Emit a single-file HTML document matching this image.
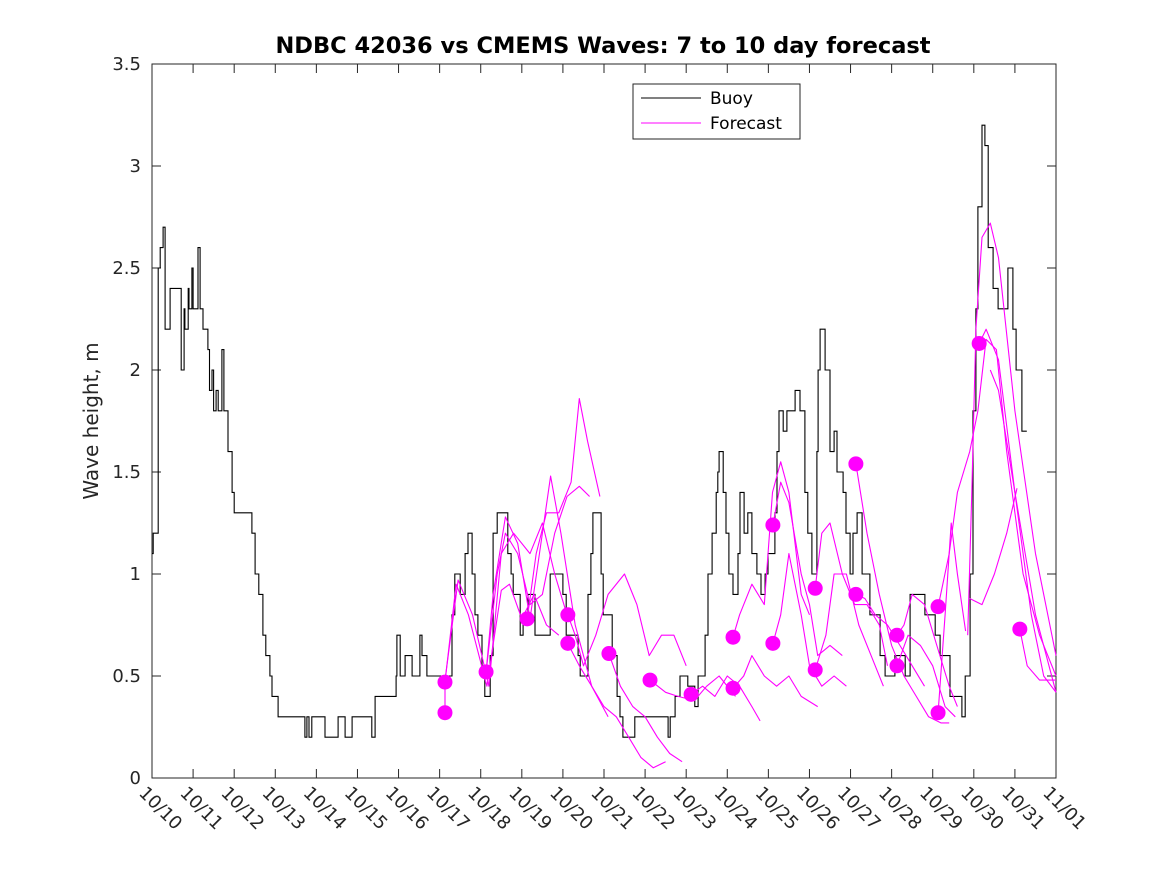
<!DOCTYPE html>
<html><head><meta charset="utf-8"><style>
body{margin:0;background:#fff;}
svg{display:block;font-family:"DejaVu Sans","Liberation Sans",sans-serif;}
</style></head><body>
<svg id="chart" width="1167" height="875" viewBox="0 0 1167 875">
<rect width="1167" height="875" fill="#fff"/>
<text x="603" y="53" text-anchor="middle" font-size="22.5" font-weight="bold" fill="#000">NDBC 42036 vs CMEMS Waves: 7 to 10 day forecast</text>
<text transform="translate(98,421) rotate(-90)" text-anchor="middle" font-size="20" fill="#262626">Wave height, m</text>
<g id="axes"></g>
<g id="series"></g>
<g id="legend">
<rect x="633" y="84" width="167" height="55" fill="#fff" stroke="#262626" stroke-width="1"/>
<line x1="641" y1="98" x2="701" y2="98" stroke="#000" stroke-width="1"/>
<text x="710" y="104" font-size="17" fill="#000">Buoy</text>
<line x1="641" y1="123" x2="701" y2="123" stroke="#f0f" stroke-width="1"/>
<text x="710" y="129" font-size="17" fill="#000">Forecast</text>
</g>
</svg>
<script>
const xTickLabels=["10/10","10/11","10/12","10/13","10/14","10/15","10/16","10/17","10/18","10/19","10/20","10/21","10/22","10/23","10/24","10/25","10/26","10/27","10/28","10/29","10/30","10/31","11/01"];
const yTicks=[0,0.5,1,1.5,2,2.5,3,3.5];
const yTickLabels=["0","0.5","1","1.5","2","2.5","3","3.5"];
const buoyDays=[0,0.03,0.15,0.2,0.27,0.32,0.37,0.44,0.71,0.78,0.8,0.88,0.9,0.97,1.0,1.12,1.17,1.24,1.36,1.4,1.46,1.5,1.56,1.61,1.7,1.75,1.85,1.95,2.0,2.04,2.34,2.43,2.51,2.6,2.7,2.77,2.87,2.92,3.07,3.65,3.72,3.77,3.82,3.89,4.04,4.21,4.53,4.7,4.87,5.35,5.43,5.87,5.94,5.96,6.04,6.16,6.33,6.52,6.57,6.69,6.94,7.01,7.3,7.37,7.5,7.62,7.69,7.79,7.86,7.93,8.03,8.1,8.23,8.3,8.4,8.54,8.66,8.74,8.79,8.96,9.03,9.15,9.32,9.56,9.69,9.93,10.0,10.08,10.37,10.42,10.61,10.68,10.73,10.85,10.93,10.98,11.2,11.32,11.39,11.46,11.68,11.75,12.24,12.56,12.61,12.73,12.85,13.04,13.21,13.29,13.46,13.53,13.63,13.73,13.77,13.8,13.9,13.97,14.04,14.14,14.26,14.31,14.41,14.5,14.6,14.72,14.82,14.92,14.99,15.16,15.21,15.26,15.36,15.45,15.65,15.77,15.89,15.96,16.06,16.18,16.21,16.26,16.38,16.5,16.6,16.67,16.82,16.89,16.99,17.06,17.16,17.28,17.47,17.72,17.84,18.08,18.33,18.45,18.57,18.81,19.06,19.18,19.42,19.62,19.71,19.79,19.91,19.98,20.05,20.1,20.2,20.27,20.35,20.47,20.59,20.83,20.95,21.03,21.17,21.29];
const buoyHeights=[1.1,1.2,2.5,2.6,2.7,2.2,2.2,2.4,2.0,2.3,2.2,2.4,2.3,2.5,2.3,2.6,2.3,2.2,2.1,1.9,2.0,1.8,1.9,1.8,2.1,1.8,1.6,1.4,1.3,1.3,1.3,1.2,1.0,0.9,0.7,0.6,0.5,0.4,0.3,0.3,0.2,0.3,0.2,0.3,0.3,0.2,0.3,0.2,0.3,0.2,0.4,0.4,0.5,0.7,0.5,0.6,0.5,0.7,0.6,0.5,0.5,0.5,0.8,1.0,0.9,1.1,1.2,1.0,0.8,0.7,0.5,0.4,0.6,1.2,1.3,1.3,1.1,1.0,0.9,0.7,0.8,0.9,0.7,0.7,1.0,1.0,0.9,0.7,0.6,0.5,0.9,1.1,1.3,1.3,1.0,0.8,0.6,0.4,0.3,0.2,0.2,0.3,0.3,0.2,0.3,0.4,0.5,0.45,0.35,0.5,0.7,1.0,1.2,1.4,1.5,1.6,1.4,1.2,1.0,0.9,1.1,1.4,1.2,1.3,1.1,1.0,0.9,1.0,1.1,1.3,1.6,1.8,1.7,1.8,1.9,1.8,1.4,1.2,1.0,1.6,2.0,2.2,2.0,1.6,1.7,1.5,1.4,1.2,1.0,1.2,1.3,1.0,0.8,0.6,0.5,0.6,0.5,0.9,0.9,0.8,0.7,0.6,0.4,0.4,0.3,0.5,1.0,1.8,2.3,2.8,3.2,3.1,2.6,2.4,2.3,2.5,2.2,2.0,1.7,1.7];
const fcA_d=[7.13,7.13,7.4,7.7,8.15,8.5,8.7,9.0,9.3,9.6,9.9];
const fcA_v=[0.32,0.47,0.95,0.8,0.45,0.92,0.95,0.78,0.9,0.75,0.7];
const fcB_d=[7.13,7.45,7.8,8.2,8.5,8.8,9.2,9.5,9.8,10.1];
const fcB_v=[0.48,0.97,0.8,0.45,1.1,1.2,1.1,1.25,1.0,0.8];
const fcC_d=[8.13,8.3,8.6,8.9,9.2,9.5,9.7,9.95,10.3,10.7,11.1];
const fcC_v=[0.52,0.9,1.28,1.15,0.78,1.2,1.48,1.2,0.75,0.45,0.3];
const fcD_d=[8.13,8.4,8.6,8.9,9.2,9.5,9.8,10.1,10.4,10.65];
const fcD_v=[0.52,1.0,1.2,1.1,0.85,0.9,1.2,1.38,1.43,1.38];
const fcE_d=[9.13,9.35,9.6,9.9,10.2,10.4,10.6,10.9];
const fcE_v=[0.78,1.1,1.3,1.3,1.45,1.86,1.65,1.38];
const fcF_d=[10.12,10.3,10.5,10.8,11.1,11.5,11.8,12.1,12.4,12.7,13.0];
const fcF_v=[0.8,0.7,0.55,0.7,0.9,1.0,0.85,0.6,0.7,0.7,0.55];
const fcG_d=[10.12,10.4,10.7,11.0,11.3,11.6,11.9,12.2,12.5];
const fcG_v=[0.66,0.55,0.45,0.35,0.3,0.2,0.1,0.05,0.08];
const fcH_d=[11.12,11.4,11.7,12.0,12.3,12.6,12.9];
const fcH_v=[0.61,0.45,0.35,0.3,0.2,0.12,0.08];
const fcI_d=[12.12,12.5,12.8,13.2,13.5,13.8,14.2];
const fcI_v=[0.48,0.42,0.4,0.38,0.45,0.5,0.4];
const fcJ_d=[13.12,13.4,13.7,14.0,14.3,14.6,14.8];
const fcJ_v=[0.41,0.45,0.4,0.5,0.45,0.35,0.28];
const fcK_d=[14.14,14.4,14.6,14.9,15.2,15.5,15.8,16.2];
const fcK_v=[0.44,0.5,0.6,0.5,0.45,0.5,0.4,0.35];
const fcL_d=[14.14,14.3,14.6,14.9,15.1,15.3,15.5,15.8,16.0];
const fcL_v=[0.69,0.8,0.95,0.85,1.4,1.55,1.4,0.9,0.8];
const fcM_d=[15.11,15.3,15.5,15.8,16.0,16.2,16.5,16.8];
const fcM_v=[1.24,1.45,1.35,1.0,0.85,0.6,0.65,0.6];
const fcN_d=[15.11,15.3,15.5,15.8,16.0,16.3,16.6,16.9];
const fcN_v=[0.66,0.8,1.1,0.8,0.55,0.45,0.5,0.45];
const fcO_d=[16.14,16.3,16.5,16.8,17.1,17.4,17.7,17.9];
const fcO_v=[0.93,1.2,1.25,1.0,0.85,0.85,0.75,0.55];
const fcP_d=[16.14,16.4,16.6,16.9,17.2,17.5,17.8];
const fcP_v=[0.53,0.7,1.0,1.0,0.75,0.6,0.45];
const fcQ_d=[17.13,17.4,17.7,18.0,18.3,18.6,18.9,19.2,19.4];
const fcQ_v=[1.54,1.2,0.9,0.65,0.5,0.4,0.3,0.27,0.27];
const fcR_d=[17.13,17.35,17.6,17.9,18.2,18.5,18.8];
const fcR_v=[0.9,0.88,0.8,0.75,0.65,0.55,0.45];
const fcS_d=[18.13,18.3,18.5,18.8,19.1,19.4,19.6];
const fcS_v=[0.7,0.75,0.9,0.85,0.65,0.45,0.35];
const fcT_d=[18.13,18.4,18.7,19.0,19.3,19.55];
const fcT_v=[0.55,0.7,0.65,0.55,0.35,0.3];
const fcU_d=[19.13,19.4,19.6,19.9,20.1,20.3,20.55,20.8,21.2,21.6,22.0];
const fcU_v=[0.84,1.1,1.4,1.6,1.8,2.15,2.1,1.6,1.0,0.7,0.5];
const fcV_d=[19.13,19.3,19.45,19.6,19.8];
const fcV_v=[0.32,0.8,1.25,1.0,0.72];
const fcW_d=[20.13,20.3,20.6,21.0,21.4,21.7,22.0];
const fcW_v=[2.13,2.2,2.05,1.4,0.8,0.5,0.42];
const fcX_d=[19.85,19.95,20.05,20.2,20.4,20.6,21.0,21.5,22.0];
const fcX_v=[0.7,1.4,2.2,2.65,2.72,2.55,1.8,1.1,0.6];
const fcY_d=[19.9,20.2,20.5,20.8,21.05];
const fcY_v=[0.88,0.85,1.0,1.2,1.42];
const fcZ_d=[20.4,20.6,21.0,21.5,22.0];
const fcZ_v=[2.0,1.9,1.4,0.8,0.42];
const fcAA_d=[21.12,21.3,21.6,22.0];
const fcAA_v=[0.73,0.55,0.48,0.48];
const dotDays=[7.13,7.13,8.13,9.13,10.12,10.12,11.12,12.12,13.12,14.14,14.14,15.11,15.11,16.14,16.14,17.13,17.13,18.13,18.13,19.13,19.13,20.13,21.12];
const dotValues=[0.47,0.32,0.52,0.78,0.8,0.66,0.61,0.48,0.41,0.69,0.44,1.24,0.66,0.93,0.53,1.54,0.9,0.7,0.55,0.84,0.32,2.13,0.73];

const NS="http://www.w3.org/2000/svg";
const L=152,R=1056,T=64,B=778;
const xs=d=>L+d*(R-L)/22;
const ys=v=>B-v*(B-T)/3.5;
const axes=document.getElementById('axes');
const series=document.getElementById('series');
function mk(tag,attrs,parent){const e=document.createElementNS(NS,tag);for(const k in attrs)e.setAttribute(k,attrs[k]);parent.appendChild(e);return e;}

const frame=mk('rect',{x:L,y:T,width:R-L,height:B-T,fill:'none',stroke:'#262626','stroke-width':1},axes);


xTickLabels.forEach((lab,i)=>{
  const x=xs(i);
  const t1=mk('line',{x1:x,y1:B,x2:x,y2:B-9,stroke:'#262626'},axes);
  
  
  const t2=mk('line',{x1:x,y1:T,x2:x,y2:T+9,stroke:'#262626'},axes);
  
  
  const tx=mk('text',{transform:`translate(${x-14},${B+16}) rotate(45)`,'font-size':18,fill:'#262626'},axes);
  tx.textContent=lab;
  
  
});
yTicks.forEach((v,i)=>{
  const y=ys(v);
  const t1=mk('line',{x1:L,y1:y,x2:L+9,y2:y,stroke:'#262626'},axes);
  
  
  const t2=mk('line',{x1:R,y1:y,x2:R-9,y2:y,stroke:'#262626'},axes);
  
  
  const tx=mk('text',{x:L-11,y:y+6,'text-anchor':'end','font-size':18,fill:'#262626'},axes);
  tx.textContent=yTickLabels[i];
  
  
});
function line(ds,vs,color,name){
  const pts=ds.map((d,i)=>xs(d).toFixed(1)+','+ys(vs[i]).toFixed(1)).join(' ');
  const p=mk('polyline',{points:pts,fill:'none',stroke:color,'stroke-width':1.1,'stroke-linejoin':'round'},series);
  
  
}
function stairs(ds,vs,color,name){
  let pts=[];
  ds.forEach((d,i)=>{
    if(i>0)pts.push(xs(d).toFixed(1)+','+ys(vs[i-1]).toFixed(1));
    pts.push(xs(d).toFixed(1)+','+ys(vs[i]).toFixed(1));
  });
  const p=mk('polyline',{points:pts.join(' '),fill:'none',stroke:color,'stroke-width':1.1},series);
  
  
}
const fcs=[[fcA_d,fcA_v],[fcB_d,fcB_v],[fcC_d,fcC_v],[fcD_d,fcD_v],[fcE_d,fcE_v],[fcF_d,fcF_v],[fcG_d,fcG_v],[fcH_d,fcH_v],[fcI_d,fcI_v],[fcJ_d,fcJ_v],[fcK_d,fcK_v],[fcL_d,fcL_v],[fcM_d,fcM_v],[fcN_d,fcN_v],[fcO_d,fcO_v],[fcP_d,fcP_v],[fcQ_d,fcQ_v],[fcR_d,fcR_v],[fcS_d,fcS_v],[fcT_d,fcT_v],[fcU_d,fcU_v],[fcV_d,fcV_v],[fcW_d,fcW_v],[fcX_d,fcX_v],[fcY_d,fcY_v],[fcZ_d,fcZ_v],[fcAA_d,fcAA_v]];
stairs(buoyDays,buoyHeights,'#000','buoy-line');
fcs.forEach(f=>line(f[0],f[1],'#f0f','forecast-line'));
dotDays.forEach((d,i)=>{
  const c=mk('circle',{cx:xs(d),cy:ys(dotValues[i]),r:7.5,fill:'#f0f'},series);
  
  
});
</script>
</body></html>
